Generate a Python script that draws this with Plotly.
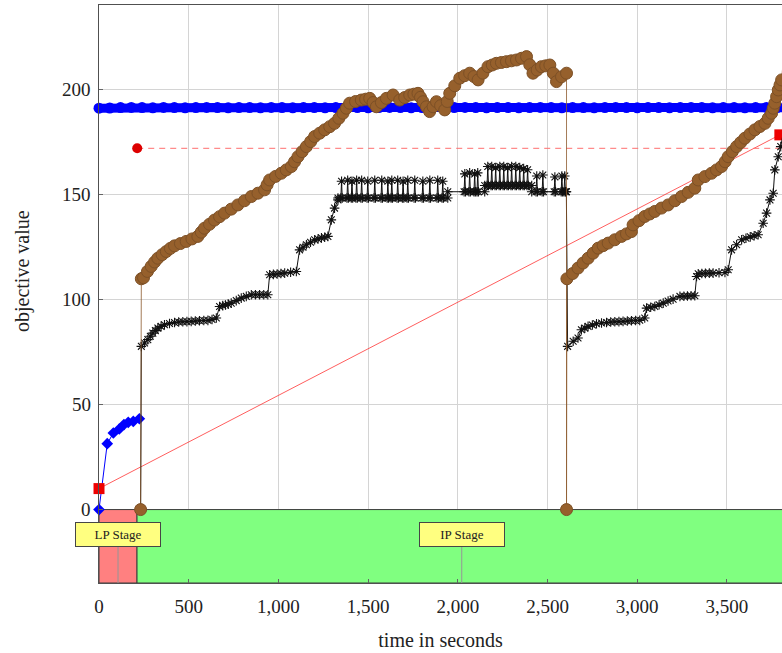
import plotly.graph_objects as go

# ---------------- data ----------------
x_tick_vals = [0, 500, 1000, 1500, 2000, 2500, 3000, 3500]
x_tick_text = ["0", "500", "1,000", "1,500", "2,000", "2,500", "3,000", "3,500"]
y_tick_vals = [0, 50, 100, 150, 200]
y_tick_text = ["0", "50", "100", "150", "200"]

# LP stage (blue diamonds)
lp_t = [0, 46, 80, 113, 139, 163, 191, 225]
lp_v = [0, 31.4, 36.5, 38.4, 40.5, 41.6, 42.0, 43.3]

# upper bound band (blue circles)
ub_t = [0, 60, 120, 180, 240, 300, 360, 420, 480, 540, 600, 660, 720, 780, 840, 900,
        960, 1020, 1080, 1140, 1200, 1260, 1320, 1380, 1440, 1500, 1560, 1620, 1680,
        1740, 1800, 1860, 1920, 1980, 2040, 2100, 2160, 2220, 2280, 2340, 2400, 2460,
        2520, 2580, 2640, 2700, 2760, 2820, 2880, 2940, 3000, 3060, 3120, 3180, 3240,
        3300, 3360, 3420, 3480, 3540, 3600, 3660, 3720, 3780, 3830]
ub_v = [191.3, 191.4, 191.6, 191.7, 191.6, 191.5, 191.7, 191.6, 191.5, 191.6, 191.7,
        191.6, 191.5, 191.6, 191.6, 191.5, 191.7, 191.6, 191.5, 191.6, 191.6, 191.5,
        191.6, 191.7, 191.6, 191.5, 191.6, 191.7, 191.6, 191.5, 191.6, 191.6, 191.5,
        191.6, 191.7, 191.6, 191.5, 191.6, 191.6, 191.5, 191.6, 191.7, 191.6, 191.5,
        191.6, 191.6, 191.5, 191.6, 191.7, 191.6, 191.5, 191.6, 191.6, 191.5, 191.6,
        191.7, 191.6, 191.5, 191.6, 191.6, 191.5, 191.6, 191.7, 191.6, 191.5]

# red solid line with squares
red_t = [0, 3795]
red_v = [10, 178.6]

# red dashed line with a dot at its start
dash_t = [213, 3830]
dash_v = [172.2, 172.2]

# brown circles
brown_t = [232, 236, 248, 270, 291, 310, 328, 352, 375, 398, 421, 454, 486, 518, 551, 570,
           588, 616, 644, 672, 700, 737, 774, 811, 849, 886, 923, 937, 951, 984, 1016, 1044,
           1072, 1090, 1109, 1132, 1156, 1180, 1202, 1230, 1258, 1286, 1313, 1337, 1360,
           1379, 1397, 1430, 1462, 1486, 1509, 1528, 1546, 1574, 1602, 1639, 1676, 1704,
           1732, 1755, 1778, 1792, 1806, 1825, 1843, 1862, 1881, 1904, 1927, 1941, 1955,
           1983, 2011, 2038, 2066, 2090, 2113, 2140, 2168, 2192, 2215, 2243, 2271, 2299,
           2327, 2355, 2383, 2401, 2419, 2442, 2466, 2490, 2513, 2532, 2550, 2578, 2606,
           2606, 2608, 2640, 2670, 2698, 2726, 2754, 2782, 2810, 2838, 2875, 2912, 2940,
           2968, 2977, 3010, 3042, 3070, 3098, 3135, 3172, 3210, 3247, 3284, 3321, 3340,
           3377, 3414, 3442, 3470, 3490, 3507, 3530, 3554, 3577, 3600, 3628, 3656, 3684,
           3712, 3730, 3749, 3758, 3767, 3777, 3786, 3796, 3805, 3810, 3815]
brown_v = [0, 110, 110.5, 113.5, 115.9, 118.0, 119.8, 121.5, 123.0, 124.5, 125.7, 126.8,
           127.8, 129.0, 130.2, 132.2, 134.1, 136.0, 138.0, 139.6, 141.3, 143.2, 145.2,
           147.2, 149.2, 150.8, 152.4, 154.8, 157.1, 158.8, 160.3, 161.9, 163.5, 165.8,
           168.2, 170.6, 173.0, 175.4, 177.8, 179.4, 181.0, 182.5, 184.1, 186.5, 188.9,
           191.3, 193.7, 194.5, 195.2, 195.6, 196.0, 194.0, 192.0, 194.0, 196.0, 197.6,
           195.2, 196.4, 197.6, 198.0, 198.4, 196.5, 194.4, 192.0, 189.7, 192.0, 194.4,
           192.5, 190.5, 194.5, 198.4, 202.0, 205.6, 206.8, 208.0, 206.4, 204.8, 208.0,
           211.1, 211.9, 212.7, 213.1, 213.5, 213.9, 214.3, 215.1, 215.9, 212.0, 208.0,
           209.5, 211.1, 211.5, 211.9, 208.0, 204.0, 206.3, 208.0,
           0, 110, 112.5, 115.1, 117.5, 119.8, 122.2, 124.6, 125.8, 127.0, 128.6, 130.2,
           131.4, 132.5, 135.7, 137.7, 139.7, 140.9, 142.1, 143.7, 145.2, 147.2, 149.2,
           151.2, 153.2, 157.1, 158.7, 160.3, 161.9, 163.5, 165.8, 168.2, 170.6, 173.0,
           175.0, 177.0, 179.0, 181.0, 182.6, 184.1, 186.5, 188.9, 191.3, 193.7, 196.8,
           200.0, 202.4, 204.8, 210.0, 216.0]

# black stars: step curve
black_t = [232, 236, 254, 272, 286, 300, 314, 328, 346, 365, 393, 421, 444, 467, 490,
           514, 537, 560, 584, 607, 630, 654, 672, 690, 705, 720, 737, 765, 793, 821,
           849, 872, 895, 918, 941, 951, 972, 993, 1014, 1035, 1068, 1100, 1118, 1137,
           1156, 1179, 1202, 1221, 1240, 1258, 1276, 1295, 1313, 1332]
black_v = [0, 77.8, 79.4, 81.0, 82.6, 84.1, 85.3, 86.5, 87.3, 88.1, 88.7, 89.2, 89.4,
           89.5, 89.6, 89.7, 89.9, 90.0, 90.1, 90.2, 90.6, 91.3, 96.8, 97.2, 97.5, 97.9,
           98.4, 99.6, 100.8, 101.6, 102.4, 102.4, 102.4, 102.4, 102.4, 111.9, 112.1,
           112.3, 112.5, 112.7, 113.1, 113.5, 123.8, 125.0, 126.2, 127.4, 128.6, 129.0,
           129.5, 129.8, 130.2, 138.1, 143.7, 147.6]

# plateaus of the black curve: (start, end, level)
plateau_start = [1332, 1944, 2150, 2412]
plateau_end = [1944, 2150, 2412, 2605]
plateau_level = [148.5, 151.5, 154.5, 151.5]
# spikes on the plateaus: time and height
spike_t = [1352, 1386, 1410, 1436, 1464, 1498, 1537, 1576, 1610, 1632, 1665, 1695, 1721,
           1760, 1805, 1844, 1888, 1916,
           2039, 2066, 2094, 2111,
           2167, 2189, 2211, 2234, 2256, 2278, 2300, 2323, 2345, 2367, 2389,
           2440, 2474, 2541, 2580, 2596]
spike_v = [156.5, 157.0, 156.5, 157.0, 157.0, 156.5, 157.0, 157.0, 156.5, 157.0, 157.0,
           156.5, 157.0, 157.0, 156.5, 157.0, 157.0, 156.5,
           160.0, 160.5, 160.0, 160.5,
           163.5, 163.5, 163.0, 163.5, 163.5, 163.0, 163.5, 163.5, 163.0, 162.5, 162.0,
           159.0, 159.5, 158.5, 159.0, 159.0]

# second run of the black curve
black2_t = [2605, 2612, 2643, 2670, 2689, 2708, 2726, 2750, 2773, 2801, 2829, 2852, 2875,
            2898, 2921, 2945, 2968, 2991, 3014, 3042, 3052, 3075, 3098, 3122, 3145, 3172,
            3200, 3238, 3260, 3280, 3300, 3321, 3331, 3340, 3360, 3380, 3402, 3423, 3456,
            3489, 3507, 3526, 3554, 3582, 3606, 3630, 3652, 3674, 3702, 3721, 3740, 3758,
            3767, 3786, 3800, 3815]
black2_v = [151.5, 77.8, 80.2, 81.8, 85.7, 86.5, 87.3, 88.0, 88.6, 88.9, 89.2, 89.4, 89.5,
            89.6, 89.7, 89.9, 90.0, 90.1, 90.2, 91.3, 96.0, 96.4, 96.8, 97.6, 98.4, 99.4,
            100.3, 101.6, 101.7, 101.8, 101.9, 101.9, 111.1, 112.4, 112.5, 112.6, 112.7,
            112.7, 112.9, 113.0, 114.3, 123.8, 126.2, 128.6, 129.3, 130.0, 130.5, 131.0,
            136.5, 141.3, 147.6, 150.8, 161.9, 168.2, 173.0, 180.0]

stage_names = ["LP Stage", "IP Stage"]
stage_start = [0, 212]
stage_end = [212, 3830]
stage_label_t = [106, 2022]
stage_label_v = [-12, -12]

# ---------------- build black series with spikes ----------------
bt = list(black_t)
bv = list(black_v)
for ps, pe, lev in zip(plateau_start, plateau_end, plateau_level):
    pts = [ps]
    for s in spike_t:
        if ps < s < pe:
            pts.append(s)
    pts.append(pe)
    for s in pts:
        if s in spike_t:
            sv = spike_v[spike_t.index(s)]
            bt += [s - 4, s, s + 4]
            bv += [lev, sv, lev]
        else:
            bt.append(s)
            bv.append(lev)
bt += black2_t
bv += black2_v

XR = [0, 3807]
YR = [-35, 240.5]
FONT = "Liberation Serif"
TXT = "#222222"

fig = go.Figure()

# blue band (upper bound)
fig.add_trace(go.Scatter(x=ub_t, y=ub_v, mode="lines+markers",
                         line=dict(color="#0000ff", width=9),
                         marker=dict(symbol="circle", size=11, color="#0000ff"),
                         cliponaxis=False, showlegend=False))
# LP stage diamonds
fig.add_trace(go.Scatter(x=lp_t, y=lp_v, mode="lines+markers",
                         line=dict(color="#0000ff", width=1),
                         marker=dict(symbol="diamond", size=9, color="#0000ff"),
                         cliponaxis=False, showlegend=False))
# red solid line
fig.add_trace(go.Scatter(x=red_t, y=red_v, mode="lines+markers",
                         line=dict(color="rgba(255,40,40,0.75)", width=1),
                         marker=dict(symbol="square", size=11, color="#ee0000"),
                         cliponaxis=False, showlegend=False))
# red dashed line
fig.add_trace(go.Scatter(x=dash_t, y=dash_v, mode="lines",
                         line=dict(color="rgba(255,110,110,0.8)", width=1.3, dash="6px,5px"),
                         showlegend=False))
fig.add_trace(go.Scatter(x=dash_t[:1], y=dash_v[:1], mode="markers",
                         marker=dict(symbol="circle", size=10, color="#dd0000"),
                         showlegend=False))
# black stars
fig.add_trace(go.Scatter(x=bt, y=bv, mode="lines+markers",
                         line=dict(color="#111111", width=1),
                         marker=dict(symbol="asterisk-open", size=8,
                                     line=dict(color="#000000", width=1.1)),
                         showlegend=False))
# brown circles
fig.add_trace(go.Scatter(x=brown_t, y=brown_v, mode="lines+markers",
                         line=dict(color="rgba(140,90,45,0.8)", width=1),
                         marker=dict(symbol="circle", size=12, color="rgb(150,96,44)",
                                     line=dict(color="rgb(125,80,38)", width=1)),
                         showlegend=False))

shapes = []
fills = ["rgb(255,128,128)", "rgb(128,255,128)"]
for s0, s1, fc in zip(stage_start, stage_end, fills):
    shapes.append(dict(type="rect", xref="x", yref="y", x0=s0, x1=s1, y0=YR[0], y1=0,
                       fillcolor=fc, line=dict(color="rgb(60,60,60)", width=1),
                       layer="between"))
for lt in stage_label_t:
    shapes.append(dict(type="line", xref="x", yref="y", x0=lt, x1=lt, y0=-14, y1=YR[0] - 1,
                       line=dict(color="rgb(150,150,150)", width=1), layer="between"))

annotations = []
for name, lt, lv in zip(stage_names, stage_label_t, stage_label_v):
    annotations.append(dict(x=lt, y=lv, xref="x", yref="y", text=name, showarrow=False,
                            font=dict(family=FONT, size=13, color=TXT),
                            bgcolor="rgb(255,255,128)", bordercolor="rgb(70,70,70)",
                            borderwidth=1, width=84, height=23, borderpad=0))
# y tick labels placed close to the axis
for yv, yt in zip(y_tick_vals, y_tick_text):
    annotations.append(dict(x=0, y=yv, xref="paper", yref="y", text=yt, showarrow=False,
                            xanchor="right", yanchor="middle", xshift=-6,
                            font=dict(family=FONT, size=19, color=TXT)))
# y axis title
annotations.append(dict(x=0, y=0.5, xref="paper", yref="paper", text="objective value",
                        showarrow=False, textangle=-90, xanchor="center", yanchor="middle",
                        xshift=-77, yshift=23, font=dict(family=FONT, size=20, color=TXT)))

fig.update_layout(
    width=782, height=653,
    margin=dict(l=99, r=0, t=5, b=70),
    paper_bgcolor="white", plot_bgcolor="white",
    font=dict(family=FONT, size=20, color=TXT),
    shapes=shapes, annotations=annotations,
    xaxis=dict(range=XR, tickvals=x_tick_vals, ticktext=x_tick_text,
               showgrid=True, gridcolor="rgb(212,212,212)", gridwidth=1,
               showline=True, linecolor="rgb(80,80,80)", linewidth=1, mirror=True,
               ticks="inside", ticklen=4, tickcolor="rgb(100,100,100)",
               zeroline=False, tickfont=dict(family=FONT, size=19), ticklabelstandoff=6,
               title=dict(text="time in seconds", font=dict(family=FONT, size=20), standoff=17)),
    yaxis=dict(range=YR, tickvals=y_tick_vals, showticklabels=False,
               showgrid=True, gridcolor="rgb(212,212,212)", gridwidth=1,
               showline=True, linecolor="rgb(80,80,80)", linewidth=1, mirror=True,
               ticks="inside", ticklen=4, tickcolor="rgb(100,100,100)",
               zeroline=False),
)

fig.write_html("out.html", config={"displayModeBar": False},
               post_script="document.body.style.margin='0';document.body.style.overflow='hidden';")
